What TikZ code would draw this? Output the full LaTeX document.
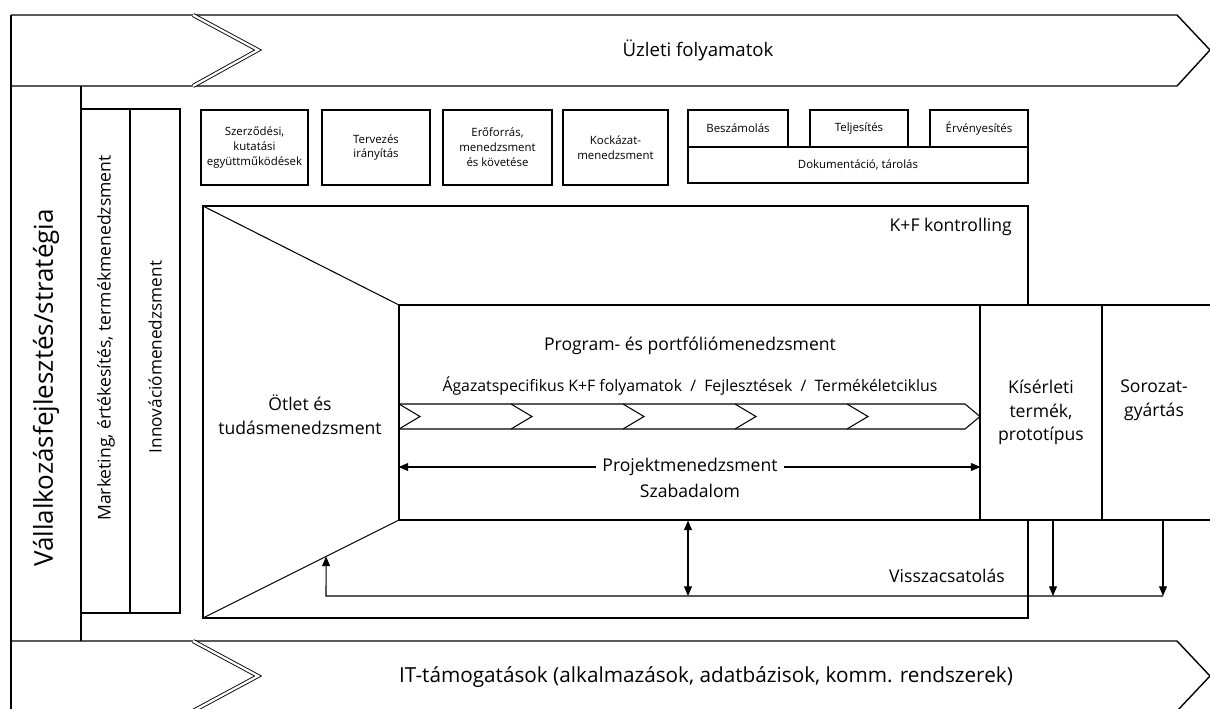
\documentclass[tikz,border=0pt]{standalone}
\usepackage{fontspec}
\setmainfont{Open Sans}
\usetikzlibrary{arrows.meta,calc}
\tikzset{
	ln/.style={line width=0.6pt},
	band/.style={line width=0.8pt},
	kf/.style={line width=1.3pt},
	notch/.style={double, double distance=1.3pt, line width=0.5pt},
	pxsize/.style 2 args={minimum width=#1*0.02cm, minimum height=#2*0.02cm},
	smallbox/.style={draw, ln, align=center, inner sep=0pt, font=\fontsize{6.5}{8.5}\selectfont},
	txt/.style={align=center, font=\fontsize{10}{13.5}\selectfont},
	arr/.style={ln, -{Triangle[length=5.5pt,width=4.5pt]}},
	darr/.style={ln, {Triangle[length=5.5pt,width=4.5pt]}-{Triangle[length=5.5pt,width=4.5pt]}},
}
\begin{document}
\begin{tikzpicture}[x=0.02cm, y=-0.02cm]
	\useasboundingbox (0,0) rectangle (1210,708);

	\draw[band] (11,15) -- (1177,15) -- (1210,50) -- (1177,86) -- (11,86);
	\draw[notch] (193,15) -- (258,50) -- (193,86);
	\draw[band] (11,15) -- (11,720);
	\draw[band] (11,641) -- (1177,641) -- (1210,676) -- (1177,711) -- (11,711);
	\draw[notch] (193,641) -- (258,676) -- (193,711);
	\node[txt, font=\fontsize{10.6}{13}\selectfont] (uzleti) at (698,50) {Üzleti folyamatok};
	\node[txt, font=\fontsize{11.8}{14}\selectfont] (it) at (706,677) {IT-támogatások (alkalmazások, adatbázisok, komm. rendszerek)};

	\draw[ln] (81,86) -- (81,641);
	\node[txt, rotate=90, font=\fontsize{14.8}{17}\selectfont] (strat) at (46,388) {Vállalkozásfejlesztés/stratégia};
	\draw[ln] (81,109) -- (180,109) -- (180,613) -- (81,613);
	\draw[ln] (130,109) -- (130,613);
	\node[txt, rotate=90, font=\fontsize{10}{12}\selectfont] (mkt) at (106,338) {Marketing, értékesítés, termékmenedzsment};
	\node[txt, rotate=90, font=\fontsize{9.8}{12}\selectfont] (innov) at (155,357) {Innovációmenedzsment};

	\node[smallbox, pxsize={107}{75}] (szerz) at (254.5,147.5) {Szerződési,\\kutatási\\együttműködések};
	\node[smallbox, pxsize={108}{75}] (terv) at (376,147.5) {Tervezés\\irányítás};
	\node[smallbox, pxsize={109}{75}] (eroforras) at (497.5,147.5) {Erőforrás,\\menedzsment\\és követése};
	\node[smallbox, pxsize={105}{75}] (kockazat) at (615.5,147.5) {Kockázat-\\menedzsment};
	\node[smallbox, pxsize={100}{37}] (beszam) at (738,128.5) {Beszámolás};
	\node[smallbox, pxsize={98}{37}] (teljes) at (859,128.5) {Teljesítés};
	\node[smallbox, pxsize={98}{37}] (erveny) at (979,128.5) {Érvényesítés};
	\node[smallbox, pxsize={340}{36}] (dokum) at (858,165) {Dokumentáció, tárolás};

	\coordinate (kfnw) at (203,206);
	\coordinate (kfsw) at (203,618);
	\coordinate (trnw) at (399,305);
	\coordinate (trsw) at (399,520);
	\draw[kf] (1028,305) -- (1028,206) -- (kfnw) -- (kfsw) -- (1028,618) -- (1028,520);
	\draw[ln] (kfnw) -- (trnw);
	\draw[ln] (kfsw) -- (trsw);
	\node[txt, anchor=east] (kfc) at (1018,227) {K+F kontrolling};
	\node[txt] (otlet) at (300,415) {Ötlet és\\tudásmenedzsment};

	\node[draw, ln, pxsize={581}{215}] (prog) at (689.5,412.5) {};
	\node[draw, ln, pxsize={122}{215}, txt] (proto) at (1041,412.5) {Kísérleti\\termék,\\prototípus};
	\node[draw, ln, pxsize={130}{215}] (soroz) at (1167,412.5) {};
	\node[txt] (sorozt) at (1154,400) {Sorozat-\\gyártás};

	\node[txt] (progt) at (690,346) {Program- és portfóliómenedzsment};
	\node[txt, font=\fontsize{9}{11}\selectfont] (agazat) at (690,386) {Ágazatspecifikus K+F folyamatok \ / \ Fejlesztések \ / \ Termékéletciklus};
	\draw[ln] (399,404) -- (965,404) -- (980,416.5) -- (965,429) -- (399,429);
	\foreach \x in {399,511,623,735,847}
		\draw[ln] (\x,404) -- (\x+21,416.5) -- (\x,429);

	\node[txt] (projekt) at (690,467) {Projektmenedzsment};
	\node[txt] (szab) at (690,491) {Szabadalom};
	\draw[arr] (projekt.west) -- (projekt.west -| prog.west);
	\draw[arr] (projekt.east) -- (projekt.east -| prog.east);

	\coordinate (fbmid) at (688,596);
	\coordinate (fbr) at (1163,596);
	\coordinate (fbdown) at (1053,596);
	\coordinate (fbl) at (326,596);
	\coordinate (fbtip) at ($(kfsw)!0.628!(trsw)$);
	\draw[darr] (fbmid |- prog.south) -- (fbmid);
	\draw[arr] (fbr) -- (fbl) -- (fbtip);
	\draw[arr] (fbdown |- proto.south) -- (fbdown);
	\draw[arr] (fbr |- soroz.south) -- (fbr);
	\node[txt] (vissza) at (947,576) {Visszacsatolás};
\end{tikzpicture}
\end{document}
